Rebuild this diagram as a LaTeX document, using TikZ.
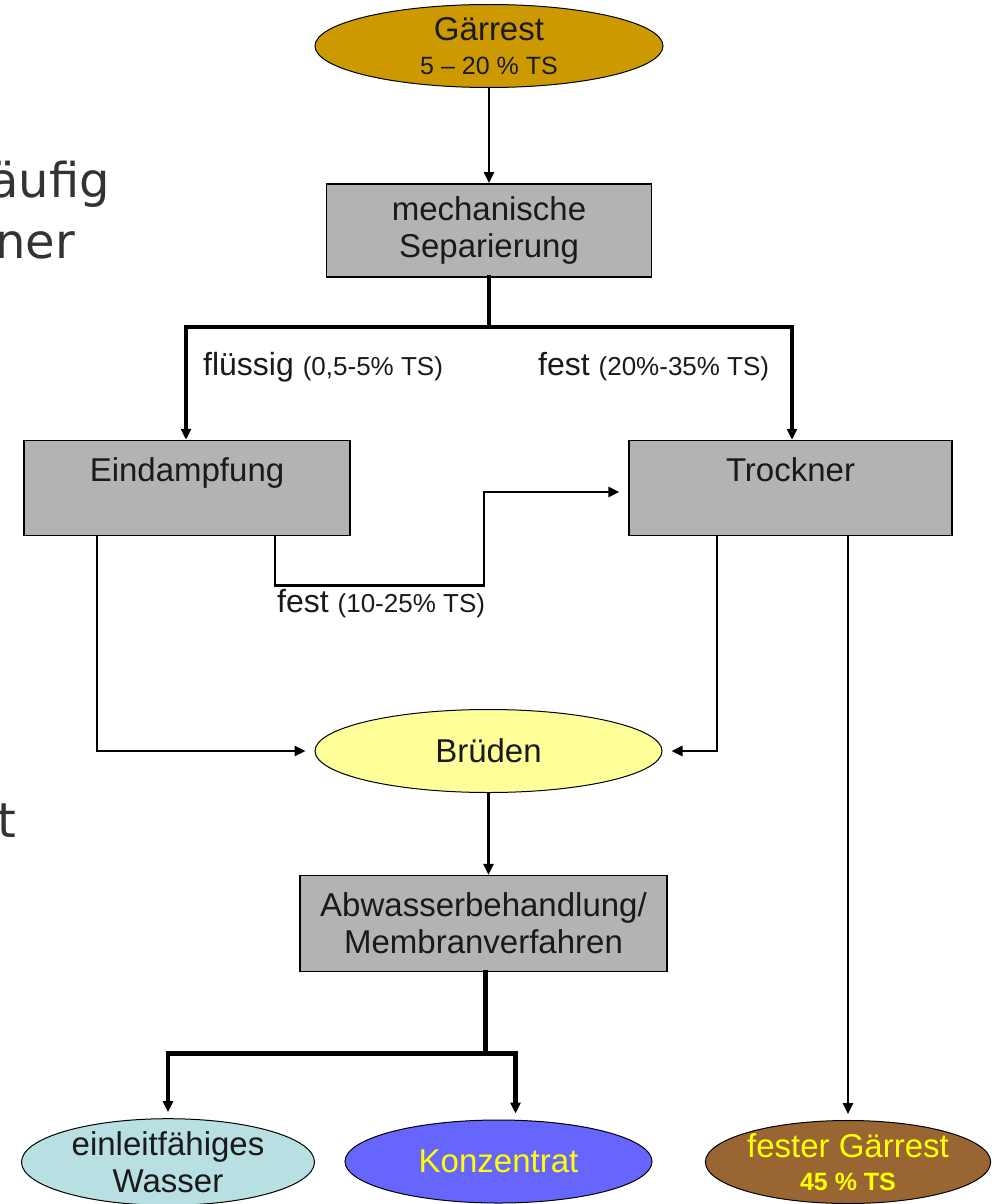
\documentclass[tikz,border=0pt]{standalone}
\usepackage{fontspec}
\setmainfont{Liberation Sans}
\newfontfamily\slidefont{DejaVu Sans}
\usepackage{tikz}
\usetikzlibrary{positioning,arrows.meta,shapes.geometric,calc}
\definecolor{grGold}{HTML}{CC9900}
\definecolor{grGray}{HTML}{B3B3B3}
\definecolor{grYellowL}{HTML}{FFFF99}
\definecolor{grCyanL}{HTML}{B8DFE2}
\definecolor{grBlue}{HTML}{6666FF}
\definecolor{grBrown}{HTML}{996633}
\definecolor{grYellow}{HTML}{FFFF00}
\definecolor{grText}{HTML}{1A1A1A}
\definecolor{grSlide}{HTML}{333333}
\newcommand{\fsMain}{\fontsize{33}{37}\selectfont}
\newcommand{\fsSub}{\fontsize{25}{30}\selectfont}
\newcommand{\fsLab}{\fontsize{32}{36}\selectfont}
\newcommand{\fsPar}{\fontsize{26}{30}\selectfont}
\tikzset{
  gr-box/.style={
    draw=black, line width=1.5pt, fill=grGray,
    font=\fsMain, align=center, text=grText, inner sep=0pt
  },
  gr-ell/.style={
    ellipse, draw=black, line width=1pt,
    font=\fsMain, align=center, text=grText, inner sep=0pt
  },
  gr-flow/.style={-{Triangle[length=11pt, width=10pt]}, line width=2.5pt},
  gr-flow-b/.style={gr-flow, line width=4.5pt},
  gr-split/.style={line width=4.5pt, line cap=rect},
  gr-label/.style={font=\fsLab, text=grText, inner sep=0pt},
  gr-slide/.style={font=\slidefont\fontsize{48}{56}\selectfont,
    text=grSlide, inner sep=0pt}
}

\begin{document}
\begin{tikzpicture}[x=1pt, y=1pt]
\useasboundingbox (0,0) rectangle (993,-1204);
\clip (0,0) rectangle (993,-1204);

% slide text behind the chart
\node[gr-slide, anchor=base east] (sl1) at (110,-197) {äufig};
\node[gr-slide, anchor=base east] (sl2) at (75,-258) {ner};
\node[gr-slide, anchor=base east] (sl3) at (17,-837) {t};

% Input
\node[gr-ell, fill=grGold, minimum width=348pt, minimum height=83pt]
  (gar) at (489,-46) {Gärrest\\[-3pt]{\fsSub 5 -- 20 \% TS}};

% Separation
\node[gr-box, below=95pt of gar, minimum width=325pt, minimum height=93pt]
  (mech) {mechanische\\Separierung};

% Eindampfung / Trockner
\node[gr-box, minimum width=326pt, minimum height=95pt]
  (eind) at (187,-488) {Eindampfung\\\mbox{}};
\node[gr-box, minimum width=323pt, minimum height=95pt]
  (trock) at (790.5,-488) {Trockner\\\mbox{}};

% Brueden
\node[gr-ell, fill=grYellowL, minimum width=347pt, minimum height=83pt]
  (brueden) at (488.5,-751) {Brüden};

% Wastewater
\node[gr-box, minimum width=367pt, minimum height=96pt]
  (abw) at (483.5,-923.5) {Abwasserbehandlung/\\Membranverfahren};

% Products
\node[gr-ell, fill=grCyanL, minimum width=293pt, minimum height=81pt]
  (wasser) at (168,-1162) {einleitfähiges\\Wasser};
\node[gr-ell, fill=grBlue, text=grYellow, minimum width=307pt, minimum height=83pt]
  (konz) at (498.5,-1161.5) {Konzentrat};
\node[gr-ell, fill=grBrown, text=grYellow, minimum width=280pt, minimum height=83pt]
  (festg) at (848,-1162) {fester Gärrest\\[-4pt]{\fsSub\bfseries 45 \% TS}};

% Labels
\node[gr-label, anchor=west] (lbfl) at (203,-367)
  {flüssig {\fsPar(0,5-5\% TS)}};
\node[gr-label, anchor=west] (lbfe) at (538,-367)
  {fest {\fsPar(20\%-35\% TS)}};
\node[gr-label, anchor=north west] (lbfe2) at (277,-589)
  {fest {\fsPar(10-25\% TS)}};

% Relations
\draw[gr-flow] (gar) -- (mech);

\draw[gr-split] (mech.south) -- ++(0,-49.5) coordinate (sp1);
\draw[gr-flow-b] (sp1) -| ([xshift=-1pt]eind.north);
\draw[gr-flow-b] (sp1) -| ([xshift=1.5pt]trock.north);

\draw[gr-flow, shorten >=9pt] ([xshift=-90pt]eind.south) |- (brueden.west);
\draw[gr-flow, shorten >=9pt] ([xshift=88pt]eind.south) -- ++(0,-49)
  -- ++(209,0) |- ([yshift=-4pt]trock.west);
\draw[gr-flow, shorten >=9pt] ([xshift=-73.5pt]trock.south) |- (brueden.east);
\draw[gr-flow, shorten >=6pt] (trock.south -| festg.north) -- (festg.north);

\draw[gr-flow] (brueden.south) -- (brueden.south |- abw.north);

\draw[gr-split] ([xshift=2pt]abw.south) -- ++(0,-81) coordinate (sp2);
\draw[gr-flow-b, shorten >=6pt] (sp2) -| (wasser.north);
\draw[gr-flow-b, shorten >=6pt] (sp2) -| ([xshift=17pt]konz.north);
\end{tikzpicture}
\end{document}
